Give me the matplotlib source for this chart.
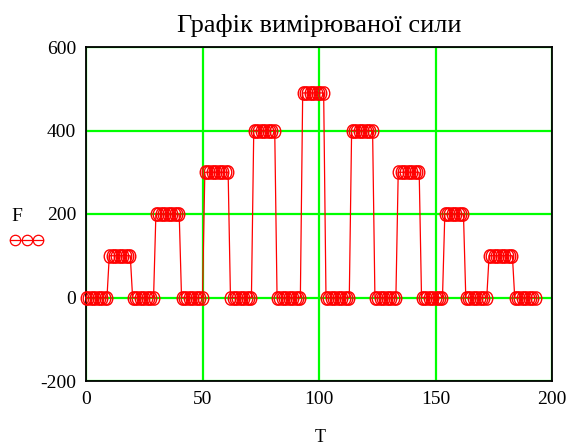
import numpy as np
import matplotlib
matplotlib.use("Agg")
import matplotlib.pyplot as plt
from matplotlib.lines import Line2D
from matplotlib.path import Path
from matplotlib.transforms import Affine2D

# рівні сили на кожній ділянці та кількість відліків на ділянці
levels = [0, 100, 0, 200, 0, 300, 0, 400, 0, 490, 0, 400, 0, 300, 0, 200, 0, 100, 0]
lengths = [10, 10, 10, 11, 10, 11, 10, 10, 11, 10, 11, 10, 10, 10, 10, 9, 10, 11, 10]

F = np.repeat(levels, lengths)
T = np.arange(len(F))

x_ticks = [0, 50, 100, 150, 200]
y_ticks = [-200, 0, 200, 400, 600]
y_labels = ["-200", "0", "200", "400", "600"]

red = "#ff0000"
green = "#00ff00"
serif = "Liberation Serif"

# трохи витягнуте по вертикалі коло, як маркер у Mathcad
oval = Affine2D().scale(0.8, 1.0).transform_path(Path.unit_circle())

fig = plt.figure(figsize=(5.68, 4.46), dpi=100)
ax = fig.add_axes([86 / 568, 1 - 381 / 446, 466 / 568, 334 / 446])

ax.plot(T, F, color=red, lw=0.9, marker=oval, ms=9.5, mfc="none", mec=red, mew=1.0,
        zorder=3, clip_on=False)

ax.set_xlim(0, 200)
ax.set_ylim(-200, 600)
ax.set_xticks(x_ticks)
ax.set_yticks(y_ticks, y_labels)
ax.grid(True, color=green, lw=1.6, zorder=1)
ax.set_axisbelow(True)
ax.tick_params(length=0, labelsize=14, pad=7)
for lab in ax.get_xticklabels() + ax.get_yticklabels():
    lab.set_fontfamily(serif)
for sp in ax.spines.values():
    sp.set_color("black")
    sp.set_linewidth(1.3)

ax.set_title("Графік вимірюваної сили", fontsize=19, family=serif, pad=11)
fig.text(320 / 568, 1 - 437 / 446, "T", ha="center", va="center", fontsize=13, family=serif)

# підпис осі Y у стилі Mathcad: ім'я змінної та зразок лінії під ним
fig.text(17 / 568, 1 - 217 / 446, "F", ha="center", va="center", fontsize=14, family=serif)
fig.add_artist(Line2D([10 / 568, 43 / 568], [1 - 240 / 446] * 2, transform=fig.transFigure,
                      color=red, lw=0.9))
fig.add_artist(Line2D([15.5 / 568, 26.5 / 568, 37.5 / 568], [1 - 240 / 446] * 3,
                      transform=fig.transFigure, ls="none", marker="o", ms=7.5,
                      mfc="none", mec=red, mew=0.9))

fig.savefig("out.png", dpi=100)
